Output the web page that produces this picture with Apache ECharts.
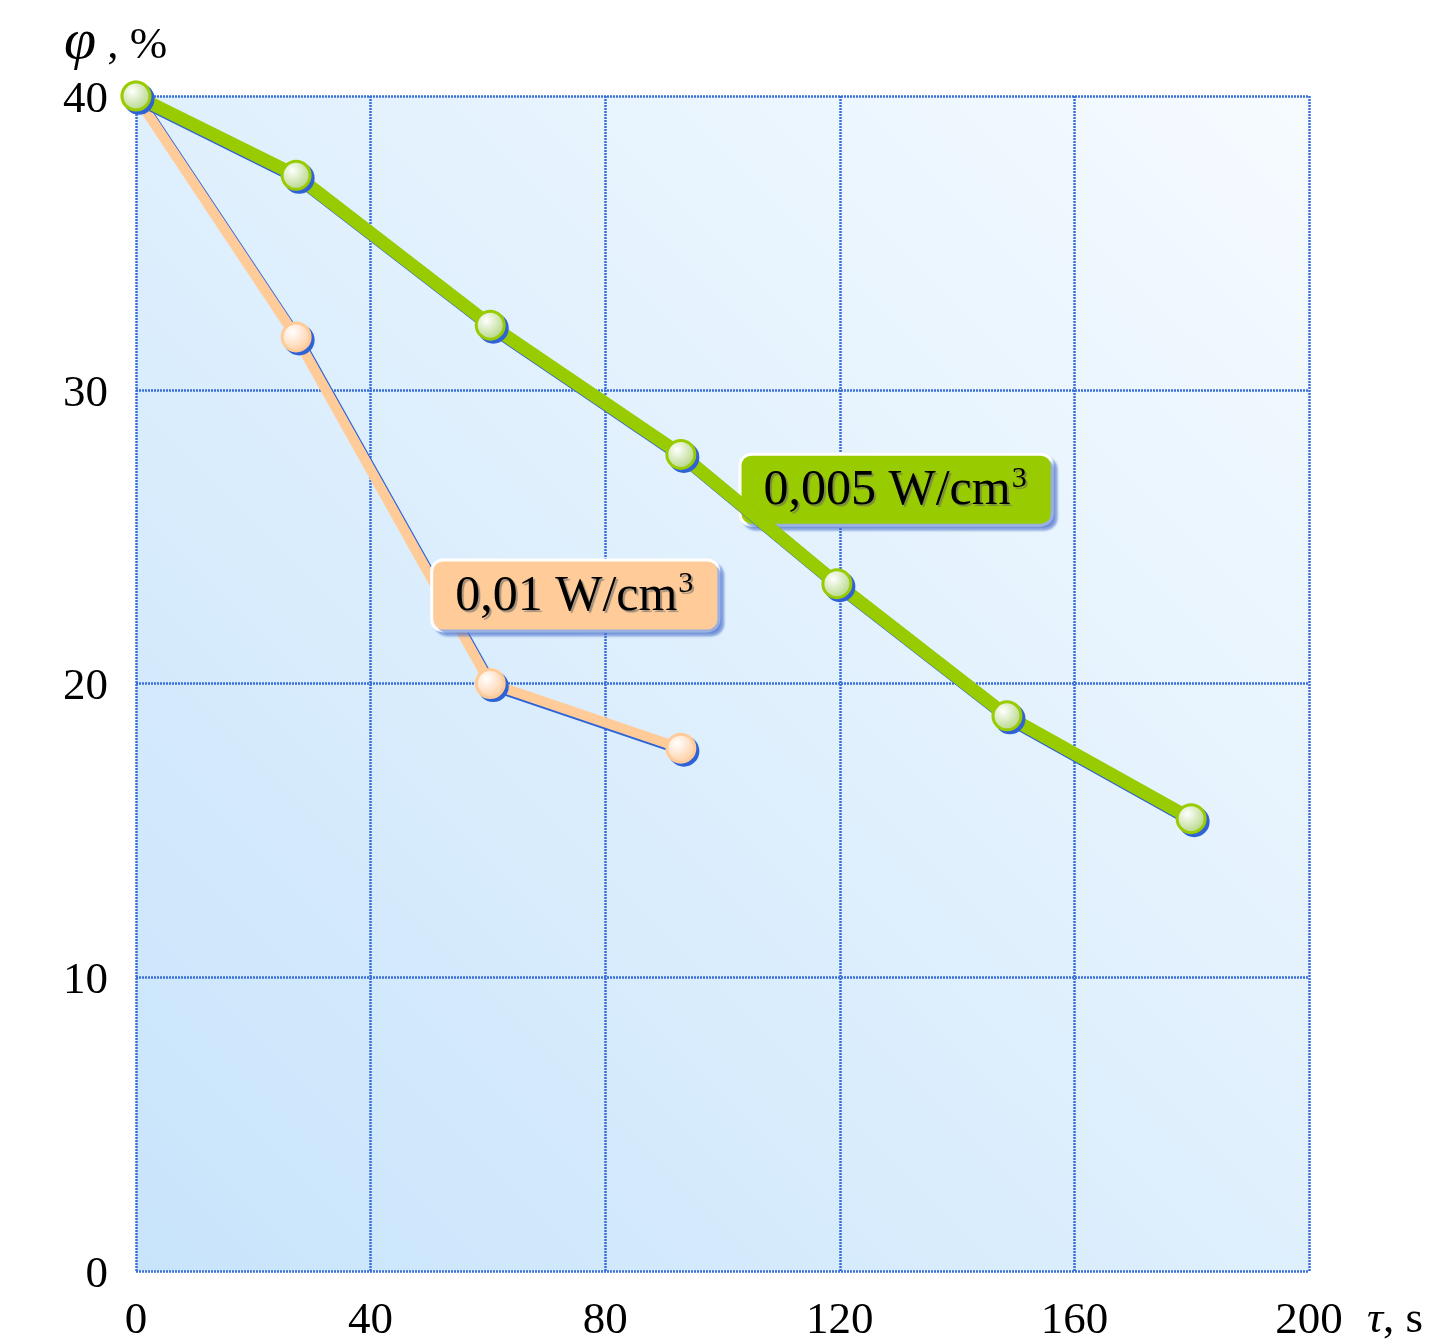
<!DOCTYPE html>
<html>
<head>
<meta charset="utf-8">
<script src="https://cdn.jsdelivr.net/npm/echarts@6/dist/echarts.min.js"></script>
<style>
html,body{margin:0;padding:0;background:#fff;}
#chart{width:1432px;height:1341px;}
</style>
</head>
<body>
<div id="chart"></div>
<script>
// Data
const xTicks = [0, 40, 80, 120, 160, 200];
const yTicks = [0, 10, 20, 30, 40];
const greenTime = [0, 27.3, 60.4, 92.9, 119.5, 148.5, 179.9];
const greenPhi  = [40, 37.3, 32.2, 27.8, 23.4, 18.9, 15.4];
const orangeTime = [0, 27.3, 60.4, 92.9];
const orangePhi  = [40, 31.8, 20.0, 17.8];
const greenLabel = {text: '0,005 W/cm', sup: '3', x: 129.6, y: 26.6};
const orangeLabel = {text: '0,01 W/cm', sup: '3', x: 74.9, y: 23.0};

const SERIF = '"Liberation Serif", "Times New Roman", serif';
const SHADOW_BLUE = '#2f62d6';
const chart = echarts.init(document.getElementById('chart'));

function pairs(xs, ys) { return xs.map((x, i) => [x, ys[i]]); }

function lineSeries(name, data, color, width, z) {
  return {
    type: 'line', name: name, data: data, showSymbol: false, symbol: 'none', z: z,
    lineStyle: {color: color, width: width,
      shadowColor: SHADOW_BLUE, shadowBlur: 0, shadowOffsetX: 3, shadowOffsetY: 3}
  };
}
function shadowDots(data, z) {
  return {
    type: 'scatter', data: data, symbol: 'circle', symbolSize: 31, symbolOffset: [3, 3], z: z,
    itemStyle: {color: SHADOW_BLUE, opacity: 1}
  };
}
function dots(data, edge, fill, z) {
  return {
    type: 'scatter', data: data, symbol: 'circle', symbolSize: 28, z: z,
    itemStyle: {
      opacity: 1,
      color: {type: 'radial', x: 0.38, y: 0.35, r: 0.75,
        colorStops: [{offset: 0, color: '#ffffff'}, {offset: 1, color: fill}]},
      borderColor: edge, borderWidth: 3
    }
  };
}

function boxLabel(lbl, bg) {
  const ts = {textShadowColor: 'rgba(100,100,100,0.6)', textShadowOffsetX: 2, textShadowOffsetY: 2, textShadowBlur: 1};
  return {
    symbol: 'circle', symbolSize: 0,
    data: [{coord: [lbl.x, lbl.y]}],
    label: {
      show: true, position: 'inside',
      formatter: '{a|' + lbl.text + '}{s|' + lbl.sup + '}',
      backgroundColor: bg, borderColor: '#ffffff', borderWidth: 3, borderRadius: 10,
      padding: [8, 24, 6, 22],
      shadowColor: 'rgba(70,110,200,0.55)', shadowBlur: 2, shadowOffsetX: 4, shadowOffsetY: 4,
      rich: {
        a: Object.assign({fontFamily: SERIF, fontSize: 50, color: '#000'}, ts),
        s: Object.assign({fontFamily: SERIF, fontSize: 30, color: '#000', verticalAlign: 'top', padding: [0, 0, 24, 1]}, ts)
      }
    }
  };
}

const option = {
  animation: false,
  backgroundColor: '#ffffff',
  grid: {
    left: 136, right: 123, top: 96, bottom: 70,
    outerBoundsMode: 'none', containLabel: false,
    show: true, borderWidth: 0,
    backgroundColor: {type: 'linear', x: 0, y: 1, x2: 1, y2: 0,
      colorStops: [{offset: 0, color: '#c8e4fb'}, {offset: 1, color: '#f6fbff'}]}
  },
  xAxis: {
    type: 'value', min: 0, max: 200, interval: 40,
    axisLine: {show: false}, axisTick: {show: false},
    axisLabel: {fontFamily: SERIF, fontSize: 45, color: '#000', margin: 28,
      formatter: v => xTicks.includes(v) ? String(v) : ''},
    splitLine: {show: true, lineStyle: {color: '#3a6fd8', width: 2.5, type: [2, 1]}}
  },
  yAxis: {
    type: 'value', min: 0, max: 40, interval: 10,
    axisLine: {show: false}, axisTick: {show: false},
    axisLabel: {color: '#000', margin: 28,
      formatter: v => yTicks.includes(v) ? '{v|' + v + '}' : '',
      rich: {v: {fontFamily: SERIF, fontSize: 45, color: '#000', padding: [8, 0, 0, 0]}}},
    splitLine: {show: true, lineStyle: {color: '#3a6fd8', width: 2.5, type: [2, 1]}}
  },
  graphic: [
    {type: 'text', left: 64, top: 14, style: {
      text: '{i|φ}{n| , %}',
      rich: {
        i: {fontFamily: SERIF, fontSize: 58, fontStyle: 'italic', fill: '#000'},
        n: {fontFamily: SERIF, fontSize: 45, fill: '#000', padding: [6, 0, 0, 0]}
      }}},
    {type: 'text', left: 1367, top: 1298, style: {
      text: '{i|τ}{n|, s}',
      rich: {
        i: {fontFamily: SERIF, fontSize: 45, fontStyle: 'italic', fill: '#000'},
        n: {fontFamily: SERIF, fontSize: 45, fill: '#000'}
      }}}
  ],
  series: [
    Object.assign(lineSeries('0,01', pairs(orangeTime, orangePhi), '#ffcc99', 10, 2),
      {markPoint: boxLabel(orangeLabel, '#ffcc99')}),
    shadowDots(pairs(orangeTime, orangePhi), 3),
    dots(pairs(orangeTime, orangePhi), '#ffcc99', '#ffc694', 4),
    Object.assign(lineSeries('0,005', pairs(greenTime, greenPhi), '#99cc00', 13, 5),
      {markPoint: boxLabel(greenLabel, '#99cc00')}),
    shadowDots(pairs(greenTime, greenPhi), 6),
    dots(pairs(greenTime, greenPhi), '#99cc00', '#a8d070', 7)
  ]
};
chart.setOption(option);
</script>
</body>
</html>
